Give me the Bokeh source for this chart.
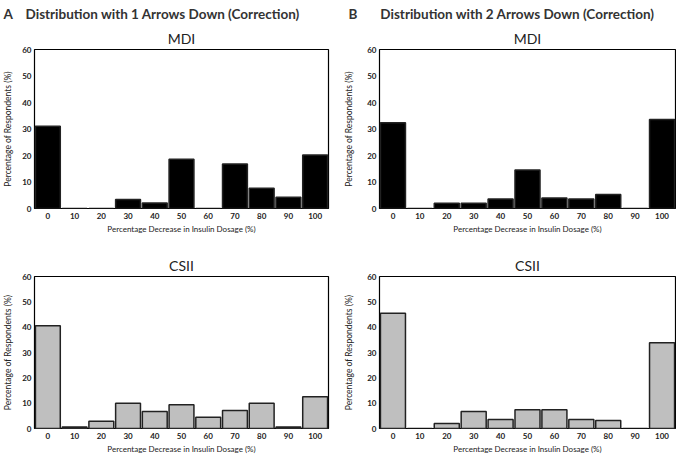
from bokeh.plotting import figure
from bokeh.layouts import row, column
from bokeh.models import FactorRange, Range1d, Title, ColumnDataSource
from bokeh.embed import file_html
from bokeh.resources import INLINE

categories = ["0", "10", "20", "30", "40", "50", "60", "70", "80", "90", "100"]
a_mdi = [31.0, 0, 0, 3.4, 2.1, 18.6, 0, 16.8, 7.6, 4.2, 20.2]
a_csii = [40.6, 0.6, 2.9, 10.0, 6.7, 9.4, 4.4, 7.1, 10.0, 0.6, 12.5]
b_mdi = [32.4, 0, 2.0, 2.0, 3.6, 14.5, 4.0, 3.6, 5.3, 0, 33.6]
b_csii = [45.5, 0, 2.0, 6.7, 3.6, 7.4, 7.4, 3.6, 3.2, 0, 33.8]

FONT = "Lato"
NB = "\u00a0"


def make(values, fill, sub, left, right, width, height, top_border, ylab_standoff,
         heading=None, head_offset=1):
    p = figure(x_range=FactorRange(factors=categories, range_padding=0),
               y_range=Range1d(0, 60), width=width, height=height,
               output_backend="svg", toolbar_location=None,
               min_border_left=left, min_border_right=right,
               min_border_top=top_border, min_border_bottom=0)
    src = ColumnDataSource(dict(x=categories, top=values))
    p.vbar(x="x", top="top", width=0.93, source=src, fill_color=fill,
           line_color="#222222", line_width=1.5)
    p.outline_line_color = "black"
    p.outline_line_width = 1.2
    p.xgrid.grid_line_color = None
    p.ygrid.grid_line_color = None
    p.background_fill_color = "white"
    p.border_fill_color = "white"
    for ax in (p.xaxis[0], p.yaxis[0]):
        ax.axis_line_color = None
        ax.major_tick_out = 0
        ax.major_tick_in = 0
        ax.minor_tick_out = 0
        ax.minor_tick_in = 0
        ax.major_label_text_font = FONT
        ax.major_label_text_font_size = "8px"
        ax.major_label_text_font_style = "bold"
        ax.major_label_text_color = "#222222"
        ax.axis_label_text_font = FONT
        ax.axis_label_text_font_style = "normal"
        ax.axis_label_text_color = "#222222"
    p.yaxis.ticker = [0, 10, 20, 30, 40, 50, 60]
    p.yaxis.axis_label = "Percentage of Respondents (%)"
    p.yaxis.axis_label_text_font_size = "8.5px"
    p.yaxis.axis_label_standoff = ylab_standoff
    p.yaxis.major_label_standoff = 3
    p.xaxis.axis_label = "Percentage Decrease in Insulin Dosage (%)"
    p.xaxis.axis_label_text_font_size = "8px"
    p.xaxis.axis_label_standoff = 2
    p.xaxis.major_label_standoff = 4
    if heading is not None:
        p.title.text = heading
        p.title.align = "left"
        p.title.offset = -left + head_offset
        p.title.text_font = FONT
        p.title.text_font_size = "13.5px"
        p.title.text_font_style = "bold"
        p.title.text_color = "#333333"
        p.title.standoff = 7
        t = Title(text=sub, align="center", text_font=FONT, text_font_size="14px",
                  text_font_style="normal", text_color="#222222", standoff=5)
        p.add_layout(t, "above")
    else:
        p.title.text = sub
        p.title.align = "center"
        p.title.text_font = FONT
        p.title.text_font_size = "14px"
        p.title.text_font_style = "normal"
        p.title.text_color = "#222222"
        p.title.standoff = 6
    return p


p1 = make(a_mdi, "black", "MDI", 32, 10, 338, 236, 40, 6,
          heading="A" + NB * 4 + "Distribution with 1 Arrows Down (Correction)", head_offset=1)
p2 = make(b_mdi, "black", "MDI", 41, 1, 338, 236, 40, 10,
          heading="B" + NB * 7 + "Distribution with 2 Arrows Down (Correction)", head_offset=10)
p3 = make(a_csii, "#bfbfbf", "CSII", 32, 10, 338, 220, 40, 6)
p4 = make(b_csii, "#bfbfbf", "CSII", 41, 1, 338, 220, 40, 10)

layout = column(row(p1, p2), row(p3, p4))
open("out.html", "w").write(file_html(layout, INLINE))
